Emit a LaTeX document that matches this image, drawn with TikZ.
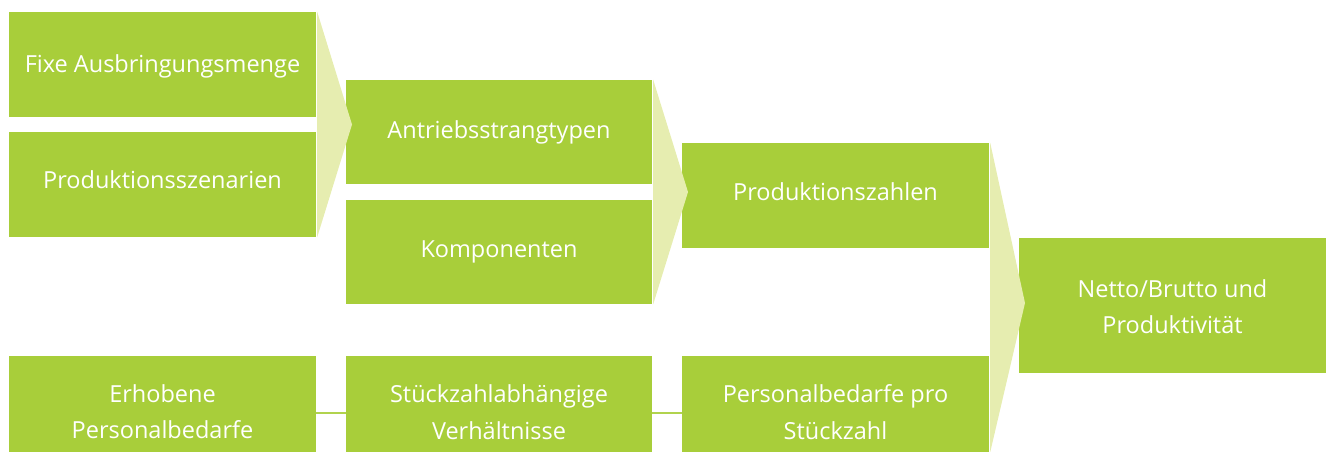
\documentclass[tikz,border=0pt]{standalone}
\usepackage{fontspec}
\setmainfont{Open Sans}
\definecolor{boxgreen}{HTML}{A8CE3A}
\definecolor{arrowgreen}{HTML}{E6EDB0}
\begin{document}
\begin{tikzpicture}[x=1pt,y=-1pt,
  gbox/.style={fill=boxgreen, text=white, inner sep=0pt, minimum width=307pt, align=center,
    font=\fontsize{23.5}{36.5}\selectfont},
  tb/.style={text height=#1, text depth=0pt},
  funnel/.style={fill=arrowgreen, draw=none},
  link/.style={draw=boxgreen!90!white, line width=2.6pt}]
\useasboundingbox (0,0) rectangle (1330,452);
% boxes
\node[gbox, minimum height=105pt, tb=16.4pt] (fixe) at (162.5,64.5) {Fixe Ausbringungsmenge};
\node[gbox, minimum height=105pt, tb=8.4pt] (prod) at (162.5,184.5) {Produktionsszenarien};
\node[gbox, minimum height=104pt, minimum width=306pt, tb=13pt] (antr) at (499,132) {Antriebsstrangtypen};
\node[gbox, minimum height=104pt, minimum width=306pt, tb=11pt] (komp) at (499,252) {Komponenten};
\node[gbox, minimum height=105pt, tb=10pt] (pzahl) at (835.5,195.5) {Produktionszahlen};
\node[gbox, minimum height=135pt, tb=56pt] (netto) at (1172.5,305.5) {Netto/Brutto und\\Produktivität};
\node[gbox, minimum height=96pt, tb=69pt] (erh) at (162.5,404) {Erhobene\\Personalbedarfe};
\node[gbox, minimum height=96pt, minimum width=306pt, tb=70pt] (stk) at (499,404) {Stückzahlabhängige\\Verhältnisse};
\node[gbox, minimum height=96pt, tb=70pt] (pers) at (835.5,404) {Personalbedarfe pro\\Stückzahl};
% funnel arrows
\coordinate (tip1) at (352,124.5);
\coordinate (tip2) at (688,192);
\coordinate (tip3) at (1025,303);
\fill[funnel] ([xshift=1pt]fixe.north east) -- (tip1) -- ([xshift=1pt]prod.south east) -- cycle;
\fill[funnel] ([xshift=1pt]antr.north east) -- (tip2) -- ([xshift=1pt]komp.south east) -- cycle;
\fill[funnel] ([xshift=1pt]pzahl.north east) -- (tip3) -- ([xshift=1pt]pers.south east) -- cycle;
% bottom links
\draw[link] ([yshift=-9pt]erh.east) -- ([yshift=-9pt]stk.west);
\draw[link] ([yshift=-9pt]stk.east) -- ([yshift=-9pt]pers.west);
\end{tikzpicture}
\end{document}
